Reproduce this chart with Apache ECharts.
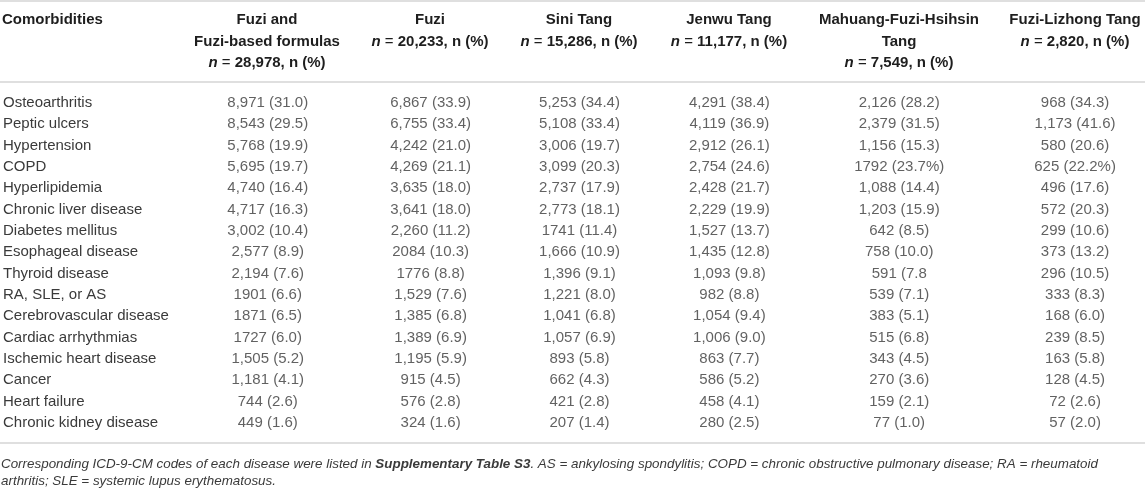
<!DOCTYPE html>
<html>
<head>
<meta charset="utf-8">
<script src="https://cdn.jsdelivr.net/npm/echarts@6/dist/echarts.min.js"></script>
<style>
  html, body { margin: 0; padding: 0; background: #fff; }
  #main { width: 1145px; height: 488px; }
</style>
</head>
<body>
<div id="main"></div>
<script>
var comorbidities = ['Osteoarthritis', 'Peptic ulcers', 'Hypertension', 'COPD', 'Hyperlipidemia',
  'Chronic liver disease', 'Diabetes mellitus', 'Esophageal disease', 'Thyroid disease', 'RA, SLE, or AS',
  'Cerebrovascular disease', 'Cardiac arrhythmias', 'Ischemic heart disease', 'Cancer', 'Heart failure',
  'Chronic kidney disease'];

var groupTitles = [
  ['Fuzi and', 'Fuzi-based formulas'],
  ['Fuzi'],
  ['Sini Tang'],
  ['Jenwu Tang'],
  ['Mahuang-Fuzi-Hsihsin', 'Tang'],
  ['Fuzi-Lizhong Tang']
];
var groupN = ['28,978', '20,233', '15,286', '11,177', '7,549', '2,820'];

var fuziAll = ['8,971 (31.0)', '8,543 (29.5)', '5,768 (19.9)', '5,695 (19.7)', '4,740 (16.4)', '4,717 (16.3)',
  '3,002 (10.4)', '2,577 (8.9)', '2,194 (7.6)', '1901 (6.6)', '1871 (6.5)', '1727 (6.0)', '1,505 (5.2)',
  '1,181 (4.1)', '744 (2.6)', '449 (1.6)'];
var fuzi = ['6,867 (33.9)', '6,755 (33.4)', '4,242 (21.0)', '4,269 (21.1)', '3,635 (18.0)', '3,641 (18.0)',
  '2,260 (11.2)', '2084 (10.3)', '1776 (8.8)', '1,529 (7.6)', '1,385 (6.8)', '1,389 (6.9)', '1,195 (5.9)',
  '915 (4.5)', '576 (2.8)', '324 (1.6)'];
var siniTang = ['5,253 (34.4)', '5,108 (33.4)', '3,006 (19.7)', '3,099 (20.3)', '2,737 (17.9)', '2,773 (18.1)',
  '1741 (11.4)', '1,666 (10.9)', '1,396 (9.1)', '1,221 (8.0)', '1,041 (6.8)', '1,057 (6.9)', '893 (5.8)',
  '662 (4.3)', '421 (2.8)', '207 (1.4)'];
var jenwuTang = ['4,291 (38.4)', '4,119 (36.9)', '2,912 (26.1)', '2,754 (24.6)', '2,428 (21.7)', '2,229 (19.9)',
  '1,527 (13.7)', '1,435 (12.8)', '1,093 (9.8)', '982 (8.8)', '1,054 (9.4)', '1,006 (9.0)', '863 (7.7)',
  '586 (5.2)', '458 (4.1)', '280 (2.5)'];
var mahuangTang = ['2,126 (28.2)', '2,379 (31.5)', '1,156 (15.3)', '1792 (23.7%)', '1,088 (14.4)', '1,203 (15.9)',
  '642 (8.5)', '758 (10.0)', '591 (7.8', '539 (7.1)', '383 (5.1)', '515 (6.8)', '343 (4.5)',
  '270 (3.6)', '159 (2.1)', '77 (1.0)'];
var lizhongTang = ['968 (34.3)', '1,173 (41.6)', '580 (20.6)', '625 (22.2%)', '496 (17.6)', '572 (20.3)',
  '299 (10.6)', '373 (13.2)', '296 (10.5)', '333 (8.3)', '168 (6.0)', '239 (8.5)', '163 (5.8)',
  '128 (4.5)', '72 (2.6)', '57 (2.0)'];

var columns = [fuziAll, fuzi, siniTang, jenwuTang, mahuangTang, lizhongTang];

// layout: column centres in px (x axis runs 0..1145)
var colX = [267, 430, 579, 729, 899, 1075];
var FONT = '"Liberation Sans", Arial, Helvetica, sans-serif';
var bodyColor = '#3a3a3a';
var headColor = '#1e1e1e';
var ruleColor = '#d4d4d4';

var chart = echarts.init(document.getElementById('main'), null, { renderer: 'canvas' });

var series = columns.map(function (col, c) {
  return {
    type: 'scatter',
    symbolSize: 0,
    silent: true,
    data: col.map(function (v, i) { return { value: [colX[c], i], text: v }; }),
    label: {
      show: true,
      position: 'inside',
      align: 'center',
      verticalAlign: 'middle',
      fontFamily: FONT,
      fontSize: 15,
      color: bodyColor,
      formatter: function (p) { return p.data.text; }
    }
  };
});

// header + rules + footnote
var graphics = [];
function rule(y) {
  graphics.push({ type: 'line', shape: { x1: 0, y1: y, x2: 1145, y2: y },
    style: { stroke: ruleColor, lineWidth: 1.5 }, silent: true });
}
rule(1);
rule(82);
rule(443);

var headRich = {
  b: { fontFamily: FONT, fontSize: 15, fontWeight: 'bold', color: headColor },
  i: { fontFamily: FONT, fontSize: 15, fontWeight: 'bold', fontStyle: 'italic', color: headColor },
  e: { fontFamily: FONT, fontSize: 15, color: headColor }
};
var headY = [20, 41.5, 63];

graphics.push({ type: 'text', silent: true, style: {
  text: 'Comorbidities', x: 2, y: headY[0], textAlign: 'left', textVerticalAlign: 'middle',
  font: 'bold 15px ' + FONT, fill: headColor } });

groupTitles.forEach(function (lines, c) {
  var rows = lines.concat(['{i|n}{e| = }{b|' + groupN[c] + ', n (%)}']);
  rows.forEach(function (t, k) {
    graphics.push({ type: 'text', silent: true, style: {
      text: k < lines.length ? '{b|' + t + '}' : t,
      rich: headRich,
      x: colX[c], y: headY[k], textAlign: 'center', textVerticalAlign: 'middle',
      font: 'bold 15px ' + FONT, fill: headColor } });
  });
});

var noteRich = {
  t: { fontFamily: FONT, fontSize: 13.4, fontStyle: 'italic', color: bodyColor },
  s: { fontFamily: FONT, fontSize: 13.4, fontStyle: 'italic', fontWeight: 'bold', color: headColor }
};
graphics.push({ type: 'text', silent: true, style: {
  text: '{t|Corresponding ICD-9-CM codes of each disease were listed in }{s|Supplementary Table S3}{t|. AS = ankylosing spondylitis; COPD = chronic obstructive pulmonary disease; RA = rheumatoid}',
  rich: noteRich, x: 1, y: 464, textAlign: 'left', textVerticalAlign: 'middle',
  font: 'italic 13.4px ' + FONT, fill: bodyColor } });
graphics.push({ type: 'text', silent: true, style: {
  text: '{t|arthritis; SLE = systemic lupus erythematosus.}',
  rich: noteRich, x: 1, y: 481, textAlign: 'left', textVerticalAlign: 'middle',
  font: 'italic 13.4px ' + FONT, fill: bodyColor } });

var option = {
  animation: false,
  backgroundColor: '#fff',
  grid: { left: 0, right: 0, top: 92.33, height: 341.33 },
  xAxis: { type: 'value', min: 0, max: 1145, show: false },
  yAxis: {
    type: 'category',
    data: comorbidities,
    inverse: true,
    axisLine: { show: false },
    axisTick: { show: false },
    splitLine: { show: false },
    axisLabel: {
      inside: true,
      margin: 2,
      fontFamily: FONT,
      fontSize: 15,
      color: bodyColor
    }
  },
  series: series,
  graphic: graphics
};

chart.setOption(option);
window.addEventListener('resize', function () { chart.resize(); });
</script>
</body>
</html>
